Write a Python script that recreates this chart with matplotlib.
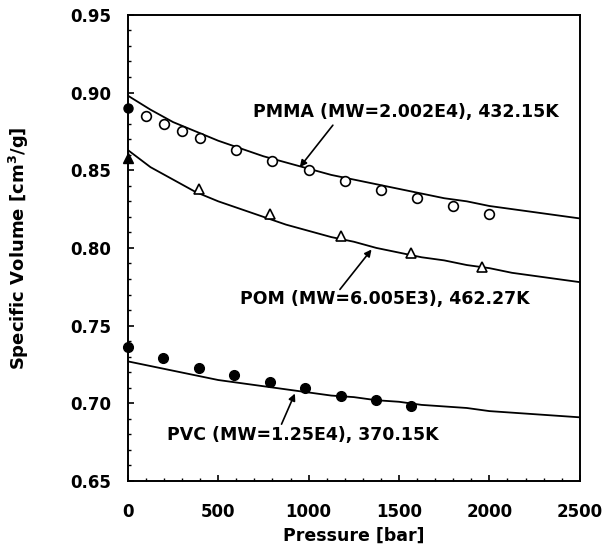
import matplotlib

matplotlib.use("Agg")

import matplotlib.pyplot as plt
from matplotlib.ticker import FormatStrFormatter, MultipleLocator


# measured points, pressure in bar, specific volume in cm3/g
PMMA_P = [0, 100, 200, 300, 400, 600, 800, 1000, 1200, 1400, 1600, 1800, 2000]
PMMA_V = [0.890, 0.885, 0.880, 0.875, 0.871, 0.863, 0.856, 0.850, 0.843, 0.837, 0.832, 0.827, 0.822]

POM_P = [0, 392, 785, 1177, 1569, 1961]
POM_V = [0.858, 0.838, 0.822, 0.808, 0.797, 0.788]

PVC_P = [0, 196, 392, 588, 785, 981, 1177, 1373, 1569]
PVC_V = [0.736, 0.729, 0.723, 0.718, 0.714, 0.710, 0.705, 0.702, 0.698]

# model curves
CURVE_P = [0, 125, 250, 375, 500, 625, 750, 875, 1000, 1125, 1250,
           1375, 1500, 1625, 1750, 1875, 2000, 2125, 2250, 2375, 2500]
PMMA_FIT = [0.898, 0.889, 0.881, 0.875, 0.869, 0.864, 0.859, 0.855, 0.851, 0.847, 0.844,
            0.841, 0.838, 0.835, 0.832, 0.830, 0.827, 0.825, 0.823, 0.821, 0.819]
POM_FIT = [0.863, 0.852, 0.844, 0.836, 0.830, 0.825, 0.820, 0.815, 0.811, 0.807, 0.804,
           0.800, 0.797, 0.794, 0.792, 0.789, 0.787, 0.784, 0.782, 0.780, 0.778]
PVC_FIT = [0.727, 0.724, 0.721, 0.718, 0.715, 0.713, 0.711, 0.709, 0.707, 0.705, 0.704,
           0.702, 0.701, 0.699, 0.698, 0.697, 0.695, 0.694, 0.693, 0.692, 0.691]

LABELS = [
    ("PMMA (MW=2.002E4), 432.15K", (691, 0.8877), (1134, 0.879), (951, 0.852)),
    ("POM (MW=6.005E3), 462.27K", (619, 0.767), (1173, 0.7733), (1348, 0.799)),
    ("PVC (MW=1.25E4), 370.15K", (214, 0.6796), (850, 0.6866), (924, 0.7063)),
]

plt.rcParams["font.family"] = ["DejaVu Sans"]
plt.rcParams["font.weight"] = "bold"

fig = plt.figure(figsize=(6.09, 5.51), dpi=100)
ax = fig.add_axes([0.210, 0.127, 0.742, 0.846])

for fit in (PMMA_FIT, POM_FIT, PVC_FIT):
    ax.plot(CURVE_P, fit, color="black", linewidth=1.3)

open_style = dict(linestyle="none", markersize=7, markerfacecolor="white",
                  markeredgecolor="black", markeredgewidth=1.2, clip_on=False)
ax.plot(PMMA_P[1:], PMMA_V[1:], marker="o", **open_style)
ax.plot(POM_P[1:], POM_V[1:], marker="^", **open_style)
# the points sitting on the axis look solid in the original
ax.plot(PMMA_P[:1], PMMA_V[:1], linestyle="none", marker="o", markersize=6.5,
        color="black", clip_on=False)
ax.plot(POM_P[:1], POM_V[:1], linestyle="none", marker="^", markersize=7,
        color="black", clip_on=False)
ax.plot(PVC_P, PVC_V, linestyle="none", marker="o", markersize=7,
        color="black", clip_on=False)

for text, text_pos, tail, tip in LABELS:
    ax.text(text_pos[0], text_pos[1], text, fontsize=12.5, fontweight="bold",
            ha="left", va="center")
    ax.annotate("", xy=tip, xytext=tail,
                arrowprops=dict(arrowstyle="-|>", color="black", lw=1.2,
                                mutation_scale=10, shrinkA=0, shrinkB=0))

ax.set_xlim(0, 2500)
ax.set_ylim(0.65, 0.95)
ax.xaxis.set_major_locator(MultipleLocator(500))
ax.xaxis.set_minor_locator(MultipleLocator(100))
ax.yaxis.set_major_locator(MultipleLocator(0.05))
ax.yaxis.set_minor_locator(MultipleLocator(0.01))
ax.yaxis.set_major_formatter(FormatStrFormatter("%.2f"))
ax.tick_params(which="both", direction="in", top=False, right=False, labelsize=12)
ax.tick_params(which="major", length=4, width=1.2)
ax.tick_params(which="minor", length=2.5, width=1)
ax.tick_params(axis="y", which="major", pad=12)
ax.tick_params(axis="x", which="major", pad=16)
for spine in ax.spines.values():
    spine.set_linewidth(1.4)

ax.set_xlabel("Pressure [bar]", fontsize=12.5, fontweight="bold", labelpad=4)
ax.set_ylabel("Specific Volume [cm$^3$/g]", fontsize=13, fontweight="bold",
              labelpad=28)

fig.savefig("out.png", dpi=100)
